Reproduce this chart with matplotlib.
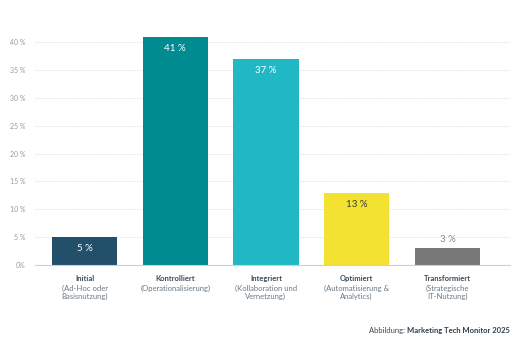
import matplotlib.pyplot as plt
import numpy as np

plt.rcParams['font.family'] = ['Lato', 'DejaVu Sans']

stages = ["Initial", "Kontrolliert", "Integriert", "Optimiert", "Transformiert"]
details = ["(Ad-Hoc oder\nBasisnutzung)", "(Operationalisierung)",
           "(Kollaboration und\nVernetzung)", "(Automatisierung &\nAnalytics)",
           "(Strategische\nIT-Nutzung)"]
shares = [5, 41, 37, 13, 3]
colors = ["#22506b", "#008b91", "#21b8c5", "#f3e232", "#7a7777"]
label_colors = ["white", "white", "white", "#3a3a3a", "#8a8a8a"]
yticks = [0, 5, 10, 15, 20, 25, 30, 35, 40]

fig = plt.figure(figsize=(5.23, 3.45), dpi=100)
ax = fig.add_axes([35 / 523, (345 - 265) / 345, 475 / 523, 234 / 345])

x = np.arange(len(stages))
ax.bar(x, shares, width=0.72, color=colors, zorder=2)

for i, v in enumerate(shares):
    if v >= 5:
        ax.text(i, v - 1.3, f"{v} %", ha="center", va="top", fontsize=7,
                color=label_colors[i], zorder=3)
    else:
        ax.text(i, v + 0.7, f"{v} %", ha="center", va="bottom", fontsize=7,
                color=label_colors[i], zorder=3)

ax.set_xlim(-0.546, 4.69)
ax.set_ylim(0, 42)
ax.set_yticks(yticks)
ax.set_yticklabels([f"{t} %" if t else "0%" for t in yticks])
ax.tick_params(axis="y", length=0, labelsize=5, labelcolor="#9a9a9a", pad=7)
ax.tick_params(axis="x", length=0, labelbottom=False)
ax.grid(axis="y", color="#d9d9d9", linestyle=(0, (1, 1.5)), linewidth=0.7, zorder=0)
for side in ["top", "right", "left"]:
    ax.spines[side].set_visible(False)
ax.spines["bottom"].set_color("#cfcfcf")
ax.spines["bottom"].set_linewidth(0.8)

# category names under each bar
for i in range(len(stages)):
    ax.annotate(stages[i], (i, 0), xytext=(0, -7.5), textcoords="offset points",
                ha="center", va="top", fontsize=5.5, fontweight="bold", color="#3c4a55")
    ax.annotate(details[i], (i, 0), xytext=(0, -14), textcoords="offset points",
                ha="center", va="top", fontsize=5.5, color="#6a7a85", linespacing=1.2)

fig.text(510 / 523, 1 - 331 / 345, "Abbildung: ", ha="right", va="center",
         fontsize=5.5, color="#3c4a55")
fig.text(510 / 523, 1 - 331 / 345, "Marketing Tech Monitor 2025", ha="right", va="center",
         fontsize=5.5, fontweight="bold", color="#2f3e4a")

# shift the prefix so both parts sit on one line
fig.canvas.draw()
r = fig.canvas.get_renderer()
bold = fig.texts[1].get_window_extent(r)
fig.texts[0].set_x(bold.x0 / fig.bbox.width)

fig.savefig("out.png", dpi=100, facecolor="white")
